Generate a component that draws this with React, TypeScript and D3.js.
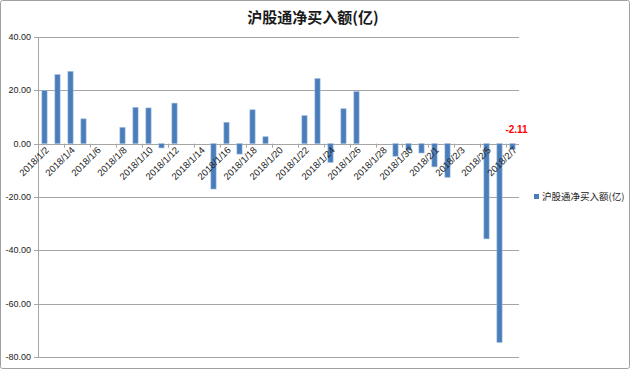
import React from "react";
import { scaleBand, scaleLinear } from "d3";

const dates = [
  "2018/1/2", "2018/1/3", "2018/1/4", "2018/1/5", "2018/1/6", "2018/1/7",
  "2018/1/8", "2018/1/9", "2018/1/10", "2018/1/11", "2018/1/12", "2018/1/13",
  "2018/1/14", "2018/1/15", "2018/1/16", "2018/1/17", "2018/1/18", "2018/1/19",
  "2018/1/20", "2018/1/21", "2018/1/22", "2018/1/23", "2018/1/24", "2018/1/25",
  "2018/1/26", "2018/1/27", "2018/1/28", "2018/1/29", "2018/1/30", "2018/1/31",
  "2018/2/1", "2018/2/2", "2018/2/3", "2018/2/4", "2018/2/5", "2018/2/6",
  "2018/2/7",
];
// net buy (亿), null = no trading that day
const netBuy: (number | null)[] = [
  20.0, 25.9, 27.1, 9.3, null, null,
  6.1, 13.6, 13.4, -1.6, 15.2, null,
  null, -17.0, 8.0, -3.9, 12.7, 2.6,
  null, null, 10.5, 24.4, -7.0, 13.1,
  19.5, null, null, -4.7, -2.5, -3.5,
  -8.7, -12.6, null, null, -35.7, -74.5,
  -2.11,
];
const yTicks = [40, 20, 0, -20, -40, -60, -80];
const title = "沪股通净买入额(亿)";
const labelled = "2018/2/7";

const W = 630;
const H = 369;
const left = 38;
const right = 519;
const top = 37;
const bottom = 357;
const grid = "#a6a6a6";
const barColor = "#4a7ebb";
const numFont = "'Liberation Sans', Arial, sans-serif";
const cjkFont = "'Noto Sans CJK SC', 'Liberation Sans', sans-serif";

export default function App() {
  const x = scaleBand<string>()
    .domain(dates)
    .range([left, right])
    .paddingInner(0.6)
    .paddingOuter(0.3);
  const y = scaleLinear().domain([-80, 40]).range([bottom, top]);
  const step = x.step();
  const y0 = y(0);

  return (
    <svg
      width={W}
      height={H}
      style={{ position: "absolute", left: 0, top: 0 }}
    >
      <rect x={0} y={0} width={W} height={H} fill="#fff" />
      <rect
        x={0.5}
        y={0.5}
        width={W - 1}
        height={H - 1}
        fill="none"
        stroke="#a0a0a0"
        rx={2}
      />
      <text
        x={313}
        y={23}
        textAnchor="middle"
        fontFamily={cjkFont}
        fontWeight="bold"
        fontSize={15}
        fill="#1a1a1a"
      >
        {title}
      </text>

      {/* gridlines + y labels */}
      {yTicks.map((t) => (
        <g key={t}>
          <line
            x1={left - 4}
            x2={right}
            y1={Math.round(y(t)) + 0.5}
            y2={Math.round(y(t)) + 0.5}
            stroke={grid}
          />
          <text
            x={31}
            y={y(t) + 3}
            textAnchor="end"
            fontFamily={numFont}
            fontSize={9}
            fill="#222"
          >
            {t.toFixed(2)}
          </text>
        </g>
      ))}
      <line
        x1={left + 0.5}
        x2={left + 0.5}
        y1={top}
        y2={bottom}
        stroke={grid}
      />

      {/* x tick marks every two days */}
      {dates.map((d, i) =>
        i % 2 === 0 && i > 0 ? (
          <line
            key={"t" + d}
            x1={Math.round(left + step * i) + 0.5}
            x2={Math.round(left + step * i) + 0.5}
            y1={y0}
            y2={y0 + 4}
            stroke={grid}
          />
        ) : null
      )}

      {/* bars */}
      {dates.map((d, i) => {
        const v = netBuy[i];
        if (v === null) return null;
        const yv = y(v);
        return (
          <rect
            key={d}
            x={x(d)}
            y={Math.min(yv, y0)}
            width={x.bandwidth()}
            height={Math.abs(yv - y0)}
            fill={barColor}
            stroke="#9db9db"
            strokeWidth={0.6}
          />
        );
      })}

      {/* x labels */}
      {dates.map((d, i) => {
        if (i % 2 !== 0) return null;
        const cx = (x(d) as number) + x.bandwidth() / 2 + 5;
        const cy = y0 + 7;
        return (
          <text
            key={"l" + d}
            x={cx}
            y={cy}
            textAnchor="end"
            transform={`rotate(-45, ${cx}, ${cy})`}
            fontFamily={numFont}
            fontSize={9.5}
            fill="#222"
          >
            {d}
          </text>
        );
      })}

      {/* data label */}
      {dates.map((d, i) =>
        d === labelled ? (
          <text
            key={"v" + d}
            x={(x(d) as number) + x.bandwidth() / 2 + 4}
            y={y0 - 11}
            textAnchor="middle"
            fontFamily={numFont}
            fontWeight="bold"
            fontSize={10}
            fill="#ff0000"
          >
            {(netBuy[i] as number).toFixed(2)}
          </text>
        ) : null
      )}

      {/* legend */}
      <rect x={534} y={194} width={5} height={5} fill={barColor} />
      <text
        x={542}
        y={200}
        fontFamily={cjkFont}
        fontSize={9.5}
        fill="#222"
      >
        {title}
      </text>
    </svg>
  );
}
